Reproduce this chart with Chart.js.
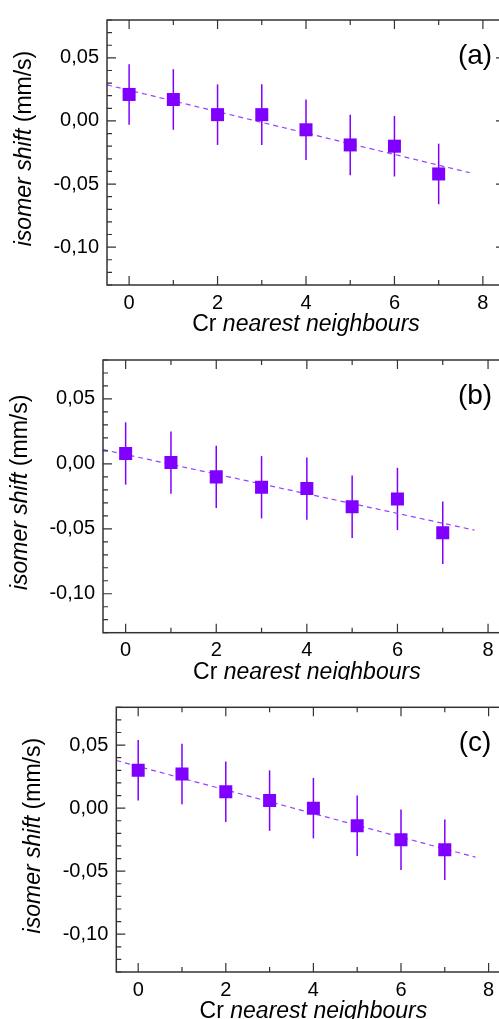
<!DOCTYPE html>
<html>
<head>
<meta charset="utf-8">
<script src="https://cdn.jsdelivr.net/npm/chart.js@4"></script>
<style>
    html, body { margin: 0; padding: 0; background: #fff; }
    body { width: 499px; height: 1019px; overflow: hidden; position: relative; }
    .panel { position: absolute; left: 0; width: 520px; }
</style>
</head>
<body>
<div class="panel" style="top:0px;height:340px"><canvas id="panelA" width="520" height="340"></canvas></div>
<div class="panel" style="top:340px;height:340px"><canvas id="panelB" width="520" height="340"></canvas></div>
<div class="panel" style="top:680px;height:339px"><canvas id="panelC" width="520" height="339"></canvas></div>
<script>
// Data
const neighbours = [0, 1, 2, 3, 4, 5, 6, 7];
const shiftA = [0.021, 0.017, 0.005, 0.005, -0.007, -0.019, -0.020, -0.042];
const shiftB = [0.008, 0.001, -0.010, -0.018, -0.019, -0.033, -0.027, -0.053];
const shiftC = [0.030, 0.027, 0.013, 0.006, 0.000, -0.014, -0.025, -0.033];
const errA = [0.024, 0.024, 0.024, 0.024, 0.024, 0.024, 0.024, 0.024];
const errB = [0.024, 0.024, 0.024, 0.024, 0.024, 0.024, 0.024, 0.024];
const errC = [0.024, 0.024, 0.024, 0.024, 0.024, 0.024, 0.024, 0.024];

// Linear fit end points
const fitX = [-0.5, 7.7];
const fitA = [0.0286, -0.041];
const fitB = [0.011, -0.051];
const fitC = [0.0378, -0.0389];

// Axis ticks
const xMajorTicks = [0, 2, 4, 6, 8];
const xMinorTicks = [1, 3, 5, 7];
const yMajorTicks = [-0.10, -0.05, 0.00, 0.05];
const yMinorTicks = [-0.13, -0.12, -0.11, -0.09, -0.08, -0.07, -0.06, -0.04, -0.03, -0.02, -0.01, 0.01, 0.02, 0.03, 0.04, 0.06, 0.07, 0.08];
const panelLabels = ['(a)', '(b)', '(c)'];

const PURPLE = '#8000ff';
const FIT_COLOR = '#9a40ff';
const AXIS_COLOR = '#333333';
const FONT = '"Liberation Sans", Arial, sans-serif';

// Draws error bars, inward ticks, frame and mixed-style titles
const decorPlugin = {
    id: 'decor',
    beforeDatasetsDraw(chart, args, opts) {
        const ctx = chart.ctx;
        const xs = chart.scales.x, ys = chart.scales.y;
        ctx.save();
        ctx.strokeStyle = PURPLE;
        ctx.lineWidth = 1.5;
        opts.values.forEach((v, i) => {
            const px = xs.getPixelForValue(neighbours[i]);
            ctx.beginPath();
            ctx.moveTo(px, ys.getPixelForValue(v + opts.errors[i]));
            ctx.lineTo(px, ys.getPixelForValue(v - opts.errors[i]));
            ctx.stroke();
        });
        ctx.restore();
    },
    afterDraw(chart, args, opts) {
        const ctx = chart.ctx;
        const a = chart.chartArea;
        const xs = chart.scales.x, ys = chart.scales.y;
        ctx.save();
        ctx.strokeStyle = AXIS_COLOR;
        ctx.lineWidth = 1.5;
        ctx.strokeRect(a.left, a.top, a.right - a.left, a.bottom - a.top);

        ctx.lineWidth = 1.2;
        const xTick = (v, len) => {
            const px = xs.getPixelForValue(v);
            ctx.beginPath();
            ctx.moveTo(px, a.bottom); ctx.lineTo(px, a.bottom - len);
            ctx.moveTo(px, a.top); ctx.lineTo(px, a.top + len);
            ctx.stroke();
        };
        const yTick = (v, len) => {
            const py = ys.getPixelForValue(v);
            ctx.beginPath();
            ctx.moveTo(a.left, py); ctx.lineTo(a.left + len, py);
            ctx.moveTo(a.right, py); ctx.lineTo(a.right - len, py);
            ctx.stroke();
        };
        xMajorTicks.forEach(v => xTick(v, 9));
        xMinorTicks.forEach(v => xTick(v, 5));
        yMajorTicks.forEach(v => yTick(v, 9));
        yMinorTicks.forEach(v => yTick(v, 5));

        ctx.fillStyle = '#000';
        ctx.textBaseline = 'alphabetic';

        // x title: "Cr" upright, rest italic
        const xPart1 = 'Cr ', xPart2 = 'nearest neighbours';
        ctx.font = '23px ' + FONT;
        const w1 = ctx.measureText(xPart1).width;
        ctx.font = 'italic 23px ' + FONT;
        const w2 = ctx.measureText(xPart2).width;
        let tx = (a.left + a.right) / 2 - (w1 + w2) / 2;
        const ty = a.bottom + 46;
        ctx.textAlign = 'left';
        ctx.font = '23px ' + FONT;
        ctx.fillText(xPart1, tx, ty);
        ctx.font = 'italic 23px ' + FONT;
        ctx.fillText(xPart2, tx + w1, ty);

        // y title: "isomer shift" italic, "(mm/s)" upright
        const yPart1 = 'isomer shift', yPart2 = ' (mm/s)';
        ctx.font = 'italic 23px ' + FONT;
        const v1 = ctx.measureText(yPart1).width;
        ctx.font = '23px ' + FONT;
        const v2 = ctx.measureText(yPart2).width;
        ctx.save();
        ctx.translate(a.left - 76, (a.top + a.bottom) / 2 - 4);
        ctx.rotate(-Math.PI / 2);
        const start = -(v1 + v2) / 2;
        ctx.font = 'italic 23px ' + FONT;
        ctx.fillText(yPart1, start, 0);
        ctx.font = '23px ' + FONT;
        ctx.fillText(yPart2, start + v1, 0);
        ctx.restore();

        // panel letter
        ctx.font = '28px ' + FONT;
        ctx.textAlign = 'center';
        ctx.textBaseline = 'middle';
        ctx.fillText(opts.label, 475, a.top + 36);
        ctx.restore();
    }
};

function makePanel(canvasId, values, errors, fit, label, area) {
    const canvas = document.getElementById(canvasId);
    const points = neighbours.map((n, i) => ({ x: n, y: values[i] }));
    const fitLine = fitX.map((x, i) => ({ x: x, y: fit[i] }));

    return new Chart(canvas.getContext('2d'), {
        type: 'scatter',
        data: {
            datasets: [
                {
                    data: points,
                    pointStyle: 'rect',
                    pointRadius: 9.2,
                    backgroundColor: PURPLE,
                    borderColor: PURPLE,
                    borderWidth: 0,
                    order: 0
                },
                {
                    type: 'line',
                    data: fitLine,
                    borderColor: FIT_COLOR,
                    borderWidth: 1.2,
                    borderDash: [5, 4],
                    pointRadius: 0,
                    fill: false,
                    order: 1
                }
            ]
        },
        options: {
            responsive: false,
            animation: false,
            devicePixelRatio: 1,
            layout: {
                padding: { top: area.top, right: canvas.width - area.right, left: 0, bottom: 0 }
            },
            plugins: {
                legend: { display: false },
                tooltip: { enabled: false },
                decor: { values: values, errors: errors, label: label }
            },
            scales: {
                x: {
                    type: 'linear',
                    min: -0.5,
                    max: 8.5,
                    grid: { display: false, drawTicks: false },
                    border: { display: false },
                    afterBuildTicks: scale => { scale.ticks = xMajorTicks.map(v => ({ value: v })); },
                    afterFit: scale => { scale.height = canvas.height - area.bottom; },
                    ticks: {
                        color: '#000',
                        padding: 6,
                        maxRotation: 0,
                        font: { family: FONT, size: 20 }
                    }
                },
                y: {
                    min: -0.13,
                    max: 0.08,
                    grid: { display: false, drawTicks: false },
                    border: { display: false },
                    afterBuildTicks: scale => { scale.ticks = yMajorTicks.map(v => ({ value: v })); },
                    afterFit: scale => { scale.width = area.left; },
                    ticks: {
                        color: '#000',
                        padding: 8,
                        font: { family: FONT, size: 20 },
                        callback: value => value.toFixed(2).replace('.', ',').replace('-0,00', '0,00')
                    }
                }
            }
        },
        plugins: [decorPlugin]
    });
}

document.addEventListener('DOMContentLoaded', () => {
    makePanel('panelA', shiftA, errA, fitA, panelLabels[0], { left: 107, top: 18, right: 505, bottom: 285 });
    makePanel('panelB', shiftB, errB, fitB, panelLabels[1], { left: 103, top: 18.7, right: 510.7, bottom: 292.7 });
    makePanel('panelC', shiftC, errC, fitC, panelLabels[2], { left: 116.3, top: 27.3, right: 510.5, bottom: 292 });
});
</script>
</body>
</html>
